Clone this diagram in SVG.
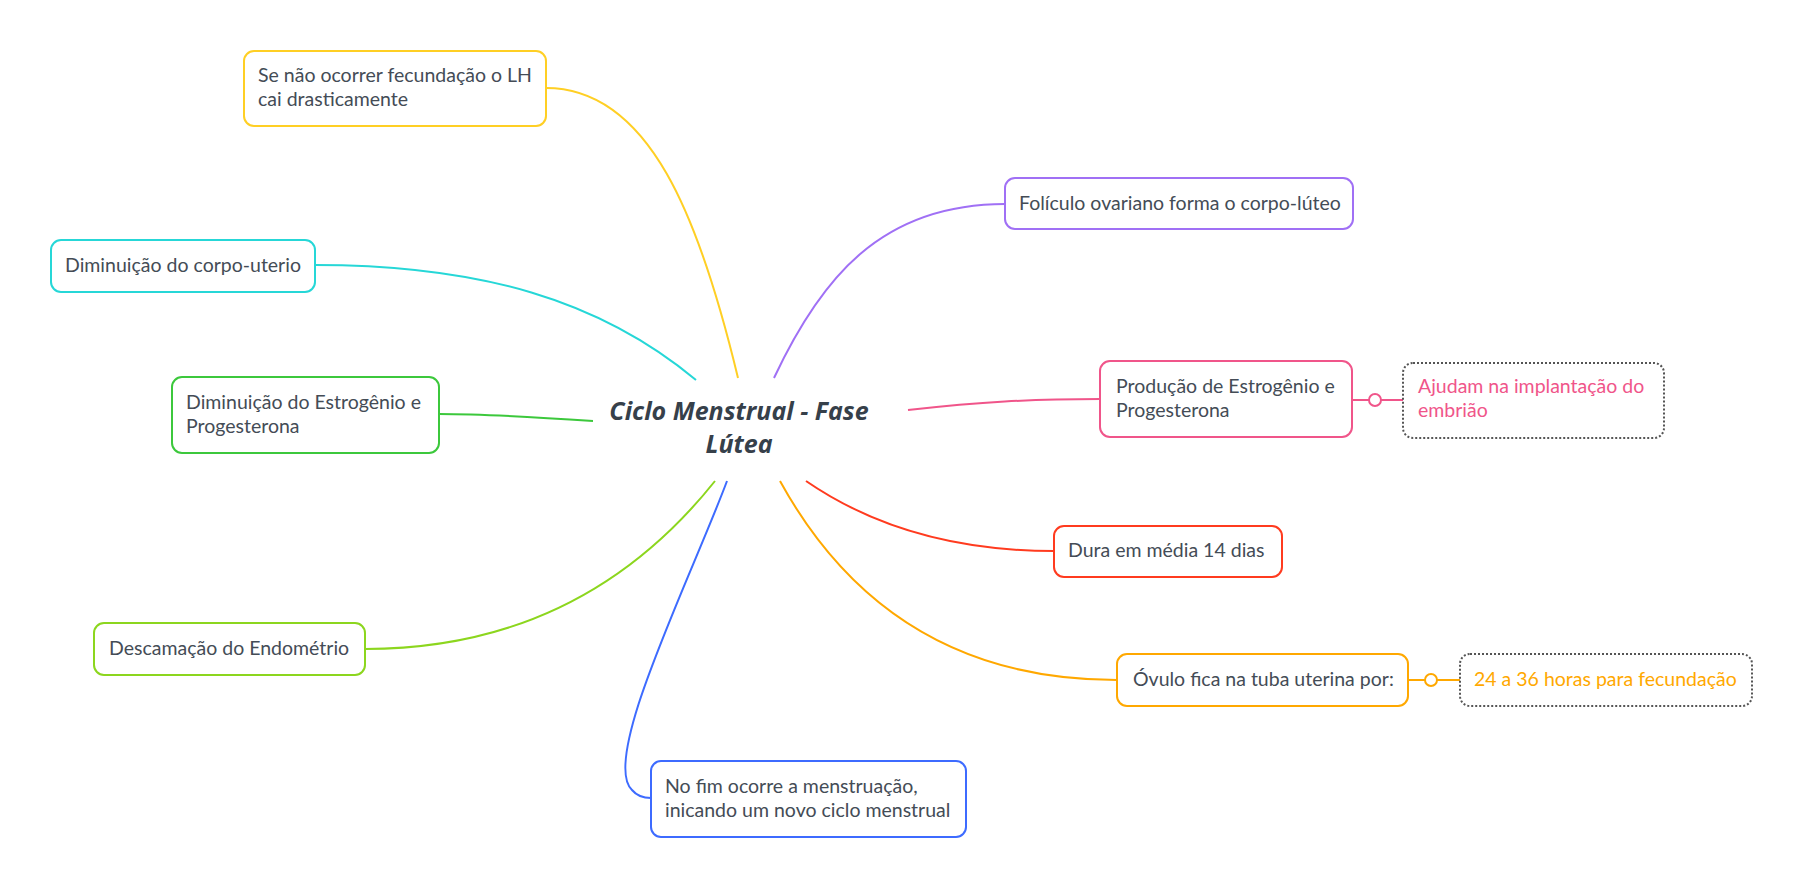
<svg xmlns="http://www.w3.org/2000/svg" width="1803" height="888" viewBox="0 0 1803 888">
<style>
.t{font-family:"Lato","Open Sans",sans-serif;font-size:19.5px;fill:#444c56}
.box{fill:#fff;stroke-width:2}
.sub{fill:#fff;stroke:#555;stroke-width:2;stroke-dasharray:2 2}
.c{fill:none;stroke-width:2}
.center{font-family:"Open Sans","DejaVu Sans",sans-serif;font-size:25px;font-weight:bold;font-style:italic;fill:#36404a}
</style>
<rect width="1803" height="888" fill="#fff"/>
<g id="connectors">
<path class="c" stroke="#FFCF24" d="M738,378 C700,220 650,88 546,88"/>
<path class="c" stroke="#26D7D7" d="M696,380 C600,300 480,265 315,265"/>
<path class="c" stroke="#3CC83C" d="M593,421 C520,416 480,414 439,414"/>
<path class="c" stroke="#8CD61E" d="M715,481 C620,600 500,649 365,649"/>
<path class="c" stroke="#3D6BFF" d="M727,481 C690,580 600,760 632,790 C637,796 644,798 651,798"/>
<path class="c" stroke="#A070F5" d="M774,378 C820,280 880,204 1005,204"/>
<path class="c" stroke="#F0558A" d="M908,410 C980,402 1030,399 1100,399"/>
<path class="c" stroke="#FF3B1F" d="M806,481 C870,525 950,551 1054,551"/>
<path class="c" stroke="#FFA800" d="M780,481 C840,590 940,680 1117,680"/>
<path class="c" stroke="#F0558A" d="M1352,400 H1403"/>
<circle cx="1375" cy="400" r="6" fill="#fff" stroke="#F0558A" stroke-width="2"/>
<path class="c" stroke="#FFA800" d="M1408,680 H1460"/>
<circle cx="1431" cy="680" r="6" fill="#fff" stroke="#FFA800" stroke-width="2"/>
</g>
<g id="center">
<text class="center" x="739" y="420" text-anchor="middle">Ciclo Menstrual - Fase</text>
<text class="center" x="739" y="453" text-anchor="middle">Lútea</text>
</g>
<g id="n1">
<rect class="box" stroke="#FFCF24" x="244" y="51" width="302" height="75" rx="10"/>
<text class="t" x="258" y="82">Se não ocorrer fecundação o LH</text>
<text class="t" x="258" y="106">cai drasticamente</text>
</g>
<g id="n2">
<rect class="box" stroke="#26D7D7" x="51" y="240" width="264" height="52" rx="10"/>
<text class="t" x="65" y="272">Diminuição do corpo-uterio</text>
</g>
<g id="n3">
<rect class="box" stroke="#3CC83C" x="172" y="377" width="267" height="76" rx="10"/>
<text class="t" x="186" y="409">Diminuição do Estrogênio e</text>
<text class="t" x="186" y="433">Progesterona</text>
</g>
<g id="n4">
<rect class="box" stroke="#8CD61E" x="94" y="623" width="271" height="52" rx="10"/>
<text class="t" x="109" y="655">Descamação do Endométrio</text>
</g>
<g id="n5">
<rect class="box" stroke="#3D6BFF" x="651" y="761" width="315" height="76" rx="10"/>
<text class="t" x="665" y="793">No fim ocorre a menstruação,</text>
<text class="t" x="665" y="817">inicando um novo ciclo menstrual</text>
</g>
<g id="n6">
<rect class="box" stroke="#A070F5" x="1005" y="178" width="348" height="51" rx="10"/>
<text class="t" x="1019" y="210">Folículo ovariano forma o corpo-lúteo</text>
</g>
<g id="n7">
<rect class="box" stroke="#F0558A" x="1100" y="361" width="252" height="76" rx="10"/>
<text class="t" x="1116" y="393">Produção de Estrogênio e</text>
<text class="t" x="1116" y="417">Progesterona</text>
</g>
<g id="n8">
<rect class="sub" x="1403" y="363" width="261" height="75" rx="10"/>
<text class="t" style="fill:#F0558A" x="1418" y="393">Ajudam na implantação do</text>
<text class="t" style="fill:#F0558A" x="1418" y="417">embrião</text>
</g>
<g id="n9">
<rect class="box" stroke="#FF3B1F" x="1054" y="526" width="228" height="51" rx="10"/>
<text class="t" x="1068" y="557">Dura em média 14 dias</text>
</g>
<g id="n10">
<rect class="box" stroke="#FFA800" x="1117" y="654" width="291" height="52" rx="10"/>
<text class="t" x="1133" y="686">Óvulo fica na tuba uterina por:</text>
</g>
<g id="n11">
<rect class="sub" x="1460" y="654" width="292" height="52" rx="10"/>
<text class="t" style="fill:#FFA800" x="1474" y="686">24 a 36 horas para fecundação</text>
</g>
</svg>
